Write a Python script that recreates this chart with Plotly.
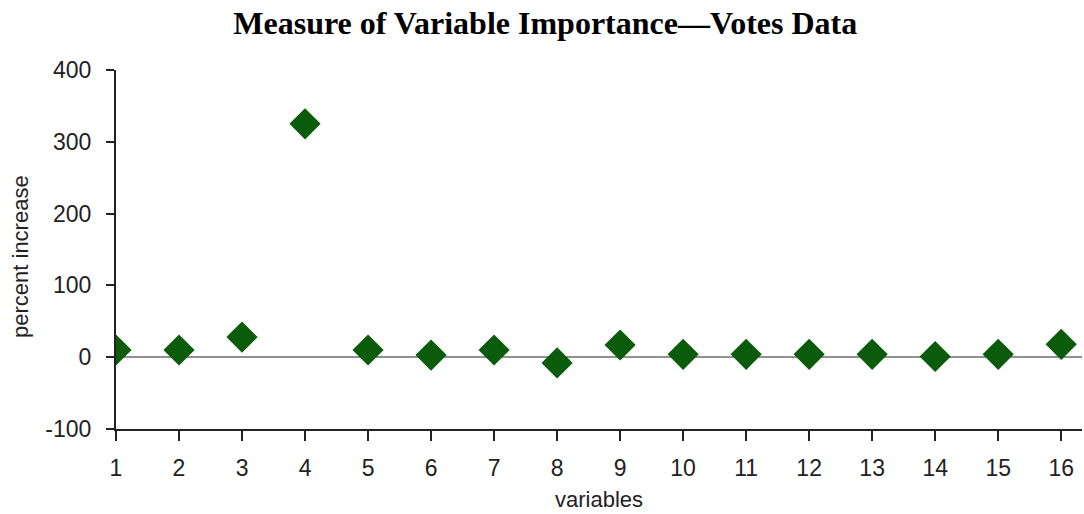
import plotly.graph_objects as go

# Variable index and the percent increase in error when each is permuted
variables = list(range(1, 17))
percent_increase = [10, 10, 28, 325, 10, 3, 10, -8, 17, 4, 4, 4, 4, 1, 4, 18]

y_ticks = [-100, 0, 100, 200, 300, 400]
y_tick_text = ["-100", "0", "100", "200", "300", "400"]

W, H = 1084, 514
M = dict(l=116, r=2, t=70, b=85)

fig = go.Figure(
    go.Scatter(
        x=variables,
        y=percent_increase,
        mode="markers",
        marker=dict(symbol="diamond", size=24, color="#0a5c0a",
                    line=dict(width=0)),
        cliponaxis=True,
        showlegend=False,
    )
)

fig.update_layout(
    width=W,
    height=H,
    margin=M,
    paper_bgcolor="white",
    plot_bgcolor="white",
    title=dict(
        text="<b>Measure of Variable Importance\u2014Votes Data</b>",
        x=0.503, xanchor="center", y=0.955, yanchor="middle",
        font=dict(family="Liberation Serif", size=32, color="black"),
    ),
    font=dict(family="Liberation Sans", color="#222222"),
)

# y-axis title placed in paper coordinates, rotated
plot_h = H - M["t"] - M["b"]
fig.add_annotation(
    text="percent increase",
    xref="paper", yref="paper",
    x=(20 - M["l"]) / (W - M["l"] - M["r"]),
    y=(H - M["b"] - 257) / plot_h,
    xanchor="center", yanchor="middle",
    textangle=-90, showarrow=False,
    font=dict(size=22, color="#222222"),
)

fig.update_xaxes(
    range=[1, 16.33],
    tickmode="array",
    tickvals=variables,
    ticktext=[str(v) for v in variables],
    ticks="outside", ticklen=10, tickwidth=1.5, tickcolor="#222222",
    showline=True, linecolor="#222222", linewidth=2,
    showgrid=False, zeroline=False,
    tickfont=dict(size=23),
    ticklabelstandoff=7,
    title=dict(text="variables", font=dict(size=22), standoff=12),
)

fig.update_yaxes(
    range=[-100, 400],
    tickmode="array",
    tickvals=y_ticks,
    ticktext=y_tick_text,
    ticks="outside", ticklen=8, tickwidth=1.5, tickcolor="#222222",
    showline=True, linecolor="#222222", linewidth=2,
    showgrid=False,
    zeroline=True, zerolinecolor="#909090", zerolinewidth=1.5,
    tickfont=dict(size=23),
    ticklabelstandoff=10,
)

fig.write_html("out.html")
